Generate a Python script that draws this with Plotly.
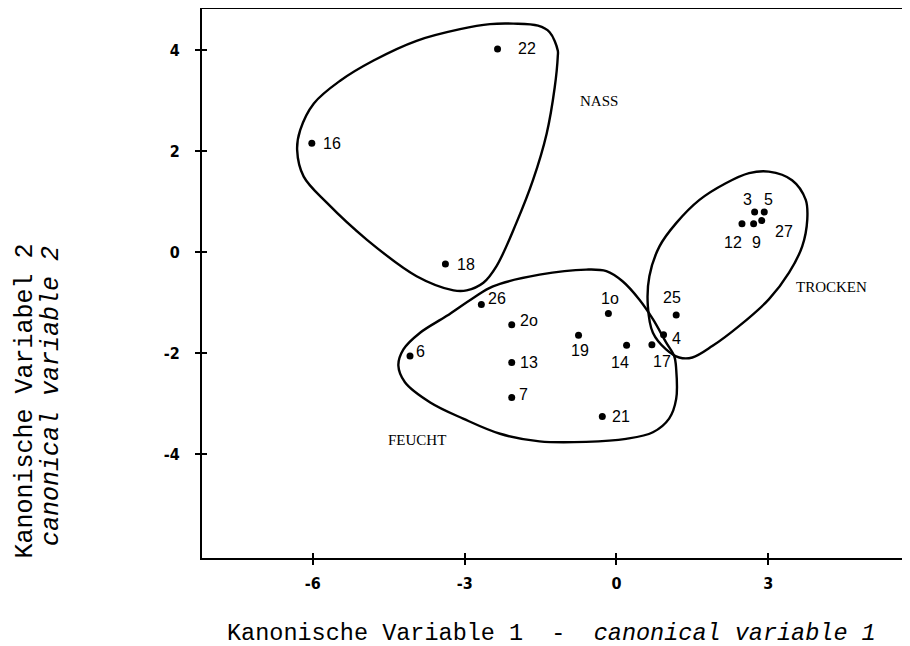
import plotly.graph_objects as go

# --- data -------------------------------------------------------------
site_ids = ["3", "4", "5", "6", "7", "9", "1o", "12", "13", "14",
            "16", "17", "18", "19", "2o", "21", "22", "25", "26", "27"]
cv1 = [2.73, 0.93, 2.92, -4.08, -2.07, 2.71, -0.16, 2.48, -2.07, 0.20,
       -6.02, 0.70, -3.38, -0.75, -2.07, -0.28, -2.35, 1.18, -2.67, 2.87]
cv2 = [0.79, -1.64, 0.79, -2.06, -2.88, 0.56, -1.22, 0.56, -2.19, -1.85,
       2.15, -1.84, -0.24, -1.65, -1.44, -3.26, 4.02, -1.25, -1.04, 0.62]

group_names = ["NASS", "TROCKEN", "FEUCHT"]
group_label_x = [-0.35, 4.25, -3.95]
group_label_y = [2.99, -0.69, -3.72]

nass_x = [-2.04, -1.55, -1.32, -1.16, -1.16, -1.22, -1.38, -1.65, -1.98, -2.37, -2.63, -2.96,
          -3.22, -3.95, -4.93, -5.72, -6.18, -6.31, -6.25, -5.98, -5.46, -4.80, -3.95,
          -3.09, -2.50]
nass_y = [4.52, 4.48, 4.35, 3.99, 3.87, 3.26, 2.34, 1.42, 0.57, -0.28, -0.61, -0.76,
          -0.76, -0.48, 0.24, 0.97, 1.49, 2.02, 2.41, 2.94, 3.39, 3.79, 4.18,
          4.41, 4.51]

feucht_x = [-4.31, -4.21, -3.88, -3.36, -2.83, -2.44, -1.52, -0.60, -0.20, 0.12, 0.45,
            0.72, 0.98, 1.14, 1.18, 1.18, 1.04, 0.72, 0.19, -0.60, -1.52, -2.30, -3.03,
            -3.68, -4.18]
feucht_y = [-2.25, -1.93, -1.60, -1.27, -0.91, -0.68, -0.45, -0.35, -0.38, -0.58, -0.94,
            -1.33, -1.79, -2.06, -2.32, -2.91, -3.30, -3.57, -3.70, -3.76, -3.75, -3.60,
            -3.30, -2.98, -2.58]

trocken_x = [3.01, 3.47, 3.74, 3.77, 3.67, 3.41, 3.01, 2.42, 1.90, 1.50, 1.24, 0.98,
             0.72, 0.62, 0.65, 0.85, 1.18, 1.64, 2.16, 2.62]
trocken_y = [1.59, 1.42, 1.03, 0.64, 0.11, -0.41, -0.94, -1.47, -1.86, -2.09, -2.09,
             -1.93, -1.60, -1.07, -0.48, 0.11, 0.57, 1.03, 1.36, 1.56]

x_ticks = [-6, -3, 0, 3]
y_ticks = [-4, -2, 0, 2, 4]

# --- style: label offsets in pixels (dx right, dy up) ----------------
label_offsets = {
    "22": (29, 0), "16": (20, 0), "18": (21, 0), "26": (16, 6), "2o": (17, 4),
    "1o": (2, 15), "25": (-4, 18), "19": (1, -15), "4": (13, -4), "14": (-7, -17),
    "17": (10, -17), "6": (10, 4), "13": (17, 0), "7": (12, 3), "21": (19, 0),
    "3": (-7, 13), "5": (4, 13), "12": (-9, -19), "9": (3, -19), "27": (22, -11),
}

fig = go.Figure()

for xs, ys in [(nass_x, nass_y), (feucht_x, feucht_y), (trocken_x, trocken_y)]:
    fig.add_trace(go.Scatter(
        x=xs + xs[:1], y=ys + ys[:1], mode="lines",
        line=dict(color="black", width=2.4, shape="spline", smoothing=1.0),
        hoverinfo="skip", showlegend=False))

fig.add_trace(go.Scatter(
    x=cv1, y=cv2, mode="markers",
    marker=dict(color="black", size=7),
    text=site_ids, showlegend=False))

# invisible trace on the overlay axes so the inner tick halves get drawn
fig.add_trace(go.Scatter(x=[cv1[0]], y=[cv2[0]], xaxis="x2", yaxis="y2",
                         mode="markers", marker=dict(opacity=0),
                         hoverinfo="skip", showlegend=False))

for sid, xv, yv in zip(site_ids, cv1, cv2):
    dx, dy = label_offsets[sid]
    fig.add_annotation(x=xv, y=yv, text=sid, showarrow=False,
                       xshift=dx, yshift=dy, xanchor="center", yanchor="middle",
                       font=dict(family="Liberation Sans, Arial, sans-serif",
                                 size=16, color="black"))

for name, xv, yv in zip(group_names, group_label_x, group_label_y):
    fig.add_annotation(x=xv, y=yv, text=name, showarrow=False,
                       xanchor="center", yanchor="middle",
                       font=dict(family="Liberation Serif, Times New Roman, serif",
                                 size=15, color="black"))

mono = "Liberation Mono, Courier New, monospace"
nb = "\u00a0"
fig.add_annotation(
    xref="paper", yref="paper", x=0.493, y=-0.137,
    text="Kanonische Variable 1" + nb * 2 + "-" + nb * 2 + "<i>canonical variable 1</i>",
    showarrow=False, xanchor="center", yanchor="middle",
    font=dict(family=mono, size=23.5, color="black"))
fig.add_annotation(
    xref="paper", yref="paper", x=0, xshift=-176, y=0.285,
    text="Kanonische Variabel 2",
    textangle=-90, showarrow=False, xanchor="center", yanchor="middle",
    font=dict(family=mono, size=25, color="black"))
fig.add_annotation(
    xref="paper", yref="paper", x=0, xshift=-151, y=0.295,
    text="<i>canonical variable 2</i>",
    textangle=-90, showarrow=False, xanchor="center", yanchor="middle",
    font=dict(family=mono, size=25, color="black"))

tickfont = dict(family="Liberation Sans Narrow, DejaVu Sans Condensed, Arial Narrow, sans-serif",
                size=16, color="black", weight="bold")

x_range = [-8.19, 5.80]
y_range = [-6.06, 4.81]

# the page body adds an 8px offset; margins compensate for it
fig.update_layout(
    width=902, height=638,
    margin=dict(l=194, r=0, t=1, b=88),
    paper_bgcolor="white", plot_bgcolor="white",
    xaxis=dict(range=x_range, tickvals=x_ticks, ticktext=[str(v) for v in x_ticks],
               showgrid=False, zeroline=False, showline=True, linecolor="black",
               linewidth=2, mirror=True, ticks="outside", ticklen=5, tickwidth=1.5,
               tickcolor="black", tickfont=tickfont, ticklabelstandoff=5),
    yaxis=dict(range=y_range, tickvals=y_ticks, ticktext=[str(v) for v in y_ticks],
               showgrid=False, zeroline=False, showline=True, linecolor="black",
               linewidth=2, ticks="outside", ticklen=5, tickwidth=1.5,
               tickcolor="black", tickfont=tickfont, ticklabelstandoff=12),
    xaxis2=dict(range=x_range, tickvals=x_ticks, overlaying="x", anchor="y2", side="bottom",
                showgrid=False, zeroline=False, showline=False, showticklabels=False,
                ticks="inside", ticklen=5, tickwidth=1.5, tickcolor="black"),
    yaxis2=dict(range=y_range, tickvals=y_ticks, overlaying="y", anchor="x2", side="left",
                showgrid=False, zeroline=False, showline=False, showticklabels=False,
                ticks="inside", ticklen=5, tickwidth=1.5, tickcolor="black"),
)

fig.write_html("out.html")
